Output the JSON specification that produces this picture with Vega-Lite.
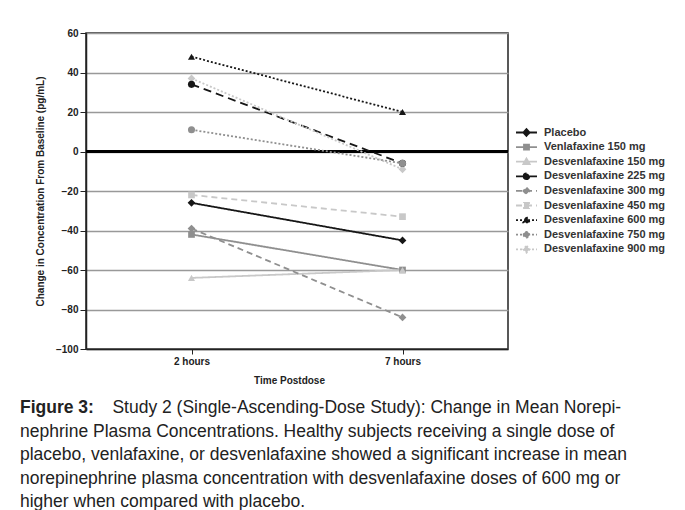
{
  "$schema": "https://vega.github.io/schema/vega-lite/v6.json",
  "width": 422,
  "height": 316,
  "autosize": {"type": "none"},
  "padding": {"left": 86, "top": 33, "right": 177, "bottom": 161},
  "background": "white",
  "config": {
    "font": "Liberation Sans",
    "view": {"stroke": "#222", "strokeWidth": 1.5},
    "axis": {"labelFont": "Liberation Sans", "titleFont": "Liberation Sans", "labelFontWeight": "bold", "titleFontWeight": "bold", "labelColor": "#222", "titleColor": "#222"}
  },
  "title": {
    "text": "Figure 3:",
    "subtitle": [
      "\u200b\u00a0\u00a0\u00a0\u00a0\u00a0\u00a0\u00a0\u00a0\u00a0\u00a0\u00a0\u00a0\u00a0\u00a0\u00a0\u00a0\u00a0\u00a0\u00a0Study 2 (Single-Ascending-Dose Study): Change in Mean Norepi-",
      "nephrine Plasma Concentrations. Healthy subjects receiving a single dose of",
      "placebo, venlafaxine, or desvenlafaxine showed a significant increase in mean",
      "norepinephrine plasma concentration with desvenlafaxine doses of 600 mg or",
      "higher when compared with placebo."
    ],
    "orient": "bottom",
    "anchor": "start",
    "frame": "group",
    "dx": -66,
    "offset": 14,
    "font": "Liberation Sans",
    "fontSize": 17.5,
    "fontWeight": "bold",
    "color": "#222",
    "subtitleFont": "Liberation Sans",
    "subtitleFontSize": 17.5,
    "subtitleFontWeight": "normal",
    "subtitleColor": "#222",
    "subtitleLineHeight": 23.5,
    "subtitlePadding": -17.5
  },
  "data": {
    "values": [
      {"series": "Placebo", "time": "2 hours", "value": -26},
      {"series": "Placebo", "time": "7 hours", "value": -45},
      {"series": "Venlafaxine 150 mg", "time": "2 hours", "value": -42},
      {"series": "Venlafaxine 150 mg", "time": "7 hours", "value": -60},
      {"series": "Desvenlafaxine 150 mg", "time": "2 hours", "value": -64},
      {"series": "Desvenlafaxine 150 mg", "time": "7 hours", "value": -60},
      {"series": "Desvenlafaxine 225 mg", "time": "2 hours", "value": 34},
      {"series": "Desvenlafaxine 225 mg", "time": "7 hours", "value": -6},
      {"series": "Desvenlafaxine 300 mg", "time": "2 hours", "value": -39},
      {"series": "Desvenlafaxine 300 mg", "time": "7 hours", "value": -84},
      {"series": "Desvenlafaxine 450 mg", "time": "2 hours", "value": -22},
      {"series": "Desvenlafaxine 450 mg", "time": "7 hours", "value": -33},
      {"series": "Desvenlafaxine 600 mg", "time": "2 hours", "value": 48},
      {"series": "Desvenlafaxine 600 mg", "time": "7 hours", "value": 20},
      {"series": "Desvenlafaxine 750 mg", "time": "2 hours", "value": 11},
      {"series": "Desvenlafaxine 750 mg", "time": "7 hours", "value": -6},
      {"series": "Desvenlafaxine 900 mg", "time": "2 hours", "value": 37},
      {"series": "Desvenlafaxine 900 mg", "time": "7 hours", "value": -9}
    ]
  },
  "encoding": {
    "x": {
      "field": "time", "type": "nominal",
      "scale": {"type": "point", "padding": 0.5},
      "axis": {"title": "Time Postdose", "titleX": 203, "labelAngle": 0, "labelFontSize": 10, "titleFontSize": 10, "tickSize": 5, "tickColor": "#222", "domainColor": "#222", "domainWidth": 1.5, "labelPadding": 2, "titlePadding": 9, "grid": false}
    },
    "y": {
      "field": "value", "type": "quantitative",
      "scale": {"domain": [-100, 60], "nice": false},
      "axis": {"title": "Change in Concentration From Baseline (pg/mL)", "values": [-100, -80, -60, -40, -20, 0, 20, 40, 60], "labelFontSize": 10, "titleFontSize": 10, "tickSize": 6, "tickColor": "#222", "domainColor": "#222", "domainWidth": 1.5, "labelPadding": 2, "titlePadding": 10, "grid": true, "gridColor": "#999", "gridWidth": 1.5}
    },
    "color": {
      "field": "series", "type": "nominal",
      "scale": {
        "domain": ["Placebo", "Venlafaxine 150 mg", "Desvenlafaxine 150 mg", "Desvenlafaxine 225 mg", "Desvenlafaxine 300 mg", "Desvenlafaxine 450 mg", "Desvenlafaxine 600 mg", "Desvenlafaxine 750 mg", "Desvenlafaxine 900 mg"],
        "range": ["#161616", "#8f8f8f", "#c8c8c8", "#161616", "#8f8f8f", "#c8c8c8", "#161616", "#8f8f8f", "#c8c8c8"]
      }
    }
  },
  "layer": [
    {
      "mark": {"type": "rule", "color": "#000", "strokeWidth": 2.2},
      "encoding": {"y": {"datum": 0}, "color": {"value": "#000"}, "x": {"value": 0}, "x2": {"value": 422}}
    },
    {
      "mark": {"type": "line", "strokeWidth": 1.8},
      "encoding": {
        "strokeDash": {
          "field": "series", "type": "nominal",
          "scale": {
            "domain": ["Placebo", "Venlafaxine 150 mg", "Desvenlafaxine 150 mg", "Desvenlafaxine 225 mg", "Desvenlafaxine 300 mg", "Desvenlafaxine 450 mg", "Desvenlafaxine 600 mg", "Desvenlafaxine 750 mg", "Desvenlafaxine 900 mg"],
            "range": [[1, 0], [1, 0], [1, 0], [8, 5], [6, 4], [6, 4], [2, 2], [2, 2], [2, 2]]
          }
        }
      }
    },
    {
      "transform": [{"filter": {"field": "series", "oneOf": ["Placebo", "Desvenlafaxine 300 mg", "Desvenlafaxine 900 mg"]}}],
      "mark": {"type": "point", "shape": "diamond", "filled": true, "opacity": 1, "size": 60}
    },
    {
      "transform": [{"filter": {"field": "series", "oneOf": ["Venlafaxine 150 mg", "Desvenlafaxine 450 mg"]}}],
      "mark": {"type": "point", "shape": "square", "filled": true, "opacity": 1, "size": 45}
    },
    {
      "transform": [{"filter": {"field": "series", "oneOf": ["Desvenlafaxine 150 mg", "Desvenlafaxine 600 mg"]}}],
      "mark": {"type": "point", "shape": "triangle-up", "filled": true, "opacity": 1, "size": 50}
    },
    {
      "transform": [{"filter": {"field": "series", "oneOf": ["Desvenlafaxine 225 mg", "Desvenlafaxine 750 mg"]}}],
      "mark": {"type": "point", "shape": "circle", "filled": true, "opacity": 1, "size": 50}
    },
    {
      "transform": [{"filter": "false"}],
      "mark": {"type": "point", "filled": true, "opacity": 1},
      "encoding": {
        "shape": {
          "field": "series", "type": "nominal",
          "scale": {
            "domain": ["Placebo", "Venlafaxine 150 mg", "Desvenlafaxine 150 mg", "Desvenlafaxine 225 mg", "Desvenlafaxine 300 mg", "Desvenlafaxine 450 mg", "Desvenlafaxine 600 mg", "Desvenlafaxine 750 mg", "Desvenlafaxine 900 mg"],
            "range": [
              "M-1,0H1M0,-0.32L0.3,0L0,0.32L-0.3,0Z",
              "M-1,0H1M-0.24,-0.24H0.24V0.24H-0.24Z",
              "M-1,0H1M0,-0.3L0.3,0.22H-0.3Z",
              "M-1,0H1M-0.27,0A0.27,0.27 0 1,0 0.27,0A0.27,0.27 0 1,0 -0.27,0Z",
              "M-1,0H1M0,-0.32L0.3,0L0,0.32L-0.3,0Z",
              "M-1,0H1M-0.24,-0.24H0.24V0.24H-0.24Z",
              "M-1,0H1M0,-0.3L0.3,0.22H-0.3Z",
              "M-1,0H1M-0.27,0A0.27,0.27 0 1,0 0.27,0A0.27,0.27 0 1,0 -0.27,0Z",
              "M-1,0H1M0,-0.32L0.3,0L0,0.32L-0.3,0Z"
            ]
          },
          "legend": {
            "title": null,
            "orient": "none",
            "legendX": 429,
            "legendY": 94,
            "padding": 0,
            "symbolSize": 440,
            "symbolStrokeWidth": 1.8,
            "labelFont": "Liberation Sans",
            "labelFontWeight": "bold",
            "labelFontSize": 11,
            "labelColor": "#333",
            "labelLimit": 300,
            "labelOffset": 6,
            "clipHeight": 11,
            "rowPadding": 2.6,
            "encode": {
              "symbols": {
                "update": {
                  "fill": {"value": {"expr": "scale('color', datum.value)"}},
                  "stroke": {"value": {"expr": "scale('color', datum.value)"}},
                  "strokeDash": {"value": {"expr": "scale('strokeDash', datum.value)"}},
                  "opacity": {"value": 1}
                }
              }
            }
          }
        }
      }
    }
  ]
}
